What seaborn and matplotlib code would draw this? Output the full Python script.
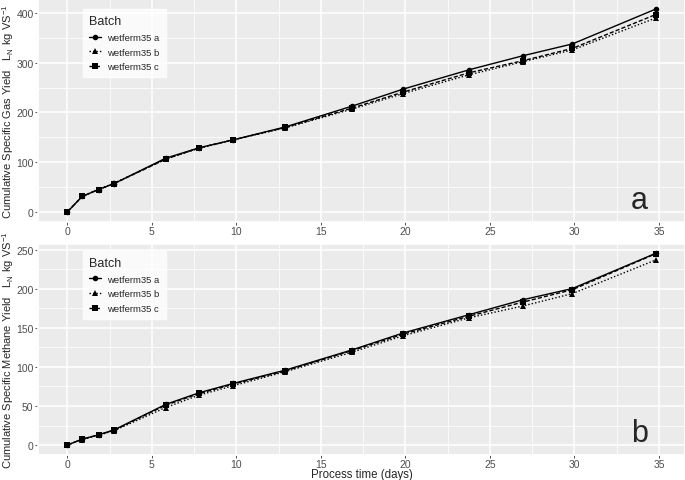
import pandas as pd
import matplotlib.pyplot as plt
import seaborn as sns

# process time (days)
dias = [0, 0.87, 1.84, 2.77, 5.81, 7.8, 9.82, 12.9, 16.86, 19.86, 23.77, 26.93, 29.88, 34.8]

# cumulative specific gas yield (LN kg VS-1)
gas_a = [0, 31, 45, 57, 108, 129, 145, 171, 213, 247, 286, 314, 338, 408]
gas_b = [0, 31, 45, 58, 106, 128, 145, 169, 207, 238, 276, 302, 326, 390]
gas_c = [0, 31, 45, 57, 106, 129, 145, 170, 209, 241, 280, 304, 329, 397]

# cumulative specific methane yield (LN kg VS-1)
ch4_a = [0, 7.5, 13, 19.5, 52, 67, 79, 96, 122, 143.5, 167, 186, 200.5, 245.5]
ch4_b = [0, 7, 12.5, 18.5, 48, 64, 76, 94, 119, 140, 163, 178, 194, 237]
ch4_c = [0, 7.5, 13, 19, 51, 66, 78, 95, 121, 142, 165, 183, 199, 245]

lotes = ['wetferm35 a', 'wetferm35 b', 'wetferm35 c']


def montar_df(series):
    linhas = []
    for lote, valores in zip(lotes, series):
        for t, v in zip(dias, valores):
            linhas.append({'time': t, 'value': v, 'Batch': lote})
    return pd.DataFrame(linhas)


df_gas = montar_df([gas_a, gas_b, gas_c])
df_ch4 = montar_df([ch4_a, ch4_b, ch4_c])

sns.set_theme(style='darkgrid', rc={
    'axes.facecolor': '#EBEBEB',
    'grid.color': 'white',
    'xtick.bottom': True,
    'ytick.left': True,
    'xtick.color': '#333333',
    'ytick.color': '#333333',
    'xtick.labelcolor': '#4D4D4D',
    'ytick.labelcolor': '#4D4D4D',
    'xtick.major.size': 2,
    'ytick.major.size': 2,
    'xtick.major.width': 0.6,
    'ytick.major.width': 0.6,
    'xtick.major.pad': 1.2,
    'ytick.major.pad': 1.2,
    'xtick.labelsize': 7.5,
    'ytick.labelsize': 7.5,
})
plt.rcParams['font.family'] = ['Liberation Sans', 'DejaVu Sans']
plt.rcParams['mathtext.fontset'] = 'custom'
plt.rcParams['mathtext.rm'] = 'Liberation Sans'

fig = plt.figure(figsize=(6.85, 4.81), dpi=100)
ax1 = fig.add_axes([38 / 685, 1 - 223 / 481, 647 / 685, 223 / 481])
ax2 = fig.add_axes([38 / 685, 1 - 455.6 / 481, 647 / 685, 210.8 / 481])

marcadores = {'wetferm35 a': 'o', 'wetferm35 b': '^', 'wetferm35 c': 's'}
tracos = {'wetferm35 a': '', 'wetferm35 b': (1, 1.5), 'wetferm35 c': (3, 1.5)}

for ax, df, rotulo, letra, ticks_y, leg_y in [
    (ax1, df_gas, 'Cumulative Specific Gas Yield', 'a', [0, 100, 200, 300, 400], 0.955),
    (ax2, df_ch4, 'Cumulative Specific Methane Yield', 'b', [0, 50, 100, 150, 200, 250], 0.966),
]:
    sns.lineplot(data=df, x='time', y='value', style='Batch', color='black',
                 markers=marcadores, dashes=tracos, markersize=4,
                 markeredgewidth=0, linewidth=1.0, ax=ax)
    ax.margins(x=0.05, y=0.05)
    ax.set_xticks([0, 5, 10, 15, 20, 25, 30, 35])
    ax.set_xticks([2.5, 7.5, 12.5, 17.5, 22.5, 27.5, 32.5], minor=True)
    ax.set_yticks(ticks_y)
    minor_y = [t + (ticks_y[1] - ticks_y[0]) / 2 for t in ticks_y]
    ax.set_yticks(minor_y, minor=True)
    ax.set_ylim(-0.05 * max(df['value']), 1.05 * max(df['value']))
    ax.tick_params(which='minor', length=0)
    ax.grid(which='major', color='white', linewidth=1.1)
    ax.grid(which='minor', color='white', linewidth=0.55)
    ax.set_ylabel(rotulo + r'   $\mathregular{L_N\ kg\ VS^{-1}}$', fontsize=8.0)
    ax.yaxis.set_label_coords(-0.034, 0.5)
    ax.text(0.929, 0.063, letra, transform=ax.transAxes, fontsize=22,
            ha='center', va='baseline')
    leg = ax.legend(title='Batch', loc='upper left',
                    bbox_to_anchor=(0.0696, leg_y), borderaxespad=0,
                    frameon=True, fontsize=6.8, title_fontsize=9,
                    handlelength=1.3, handletextpad=0.6, borderpad=0.65,
                    labelspacing=0.6, fancybox=False)
    leg.get_frame().set_facecolor('white')
    leg.get_frame().set_edgecolor('white')
    leg._legend_box.align = 'left'

ax1.set_xlabel('')
ax2.set_xlabel('Process time (days)', fontsize=8.3)
ax2.xaxis.set_label_coords(0.5, -0.092)
ax2.xaxis.label.set_va('center')

plt.savefig('out.png', dpi=100)
